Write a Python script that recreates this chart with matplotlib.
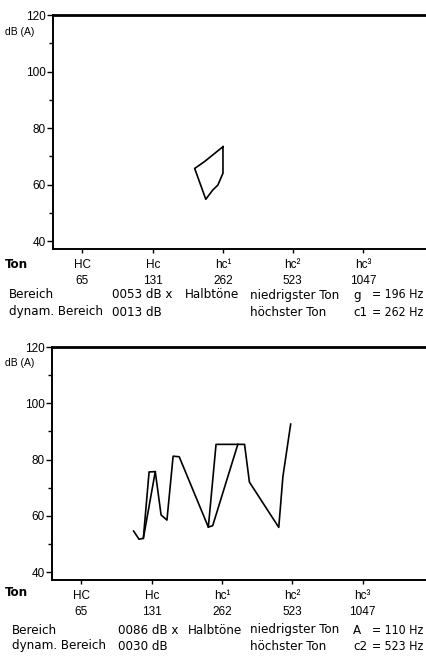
import numpy as np
import matplotlib
matplotlib.use("Agg")
import matplotlib.pyplot as plt
from matplotlib.ticker import FixedLocator, NullFormatter

# Stimmfeld 1 (geschlossene Kontur)
f1 = [262, 262, 249, 237, 221, 198, 218, 262]
db1 = [73.4, 64.0, 59.8, 58.1, 54.8, 65.7, 68.1, 73.4]

# Stimmfeld 2, Hauptkontur
f2 = [109, 115, 120, 127, 135, 143, 151.5, 161, 171, 228, 246, 326, 342, 457, 476, 514]
db2 = [54.6, 51.7, 52.0, 75.6, 75.7, 60.3, 58.5, 81.2, 81.0, 56.0, 85.4, 85.4, 72.0, 55.9, 73.9, 92.6]
# Stimmfeld 2, zweite Linie (Stücke, getrennt durch nan)
f2b = [120, 135, np.nan, 228, 238, 305]
db2b = [52.0, 75.7, np.nan, 56.0, 56.5, 85.4]

ton_namen = ["HC", "Hc", "hc¹", "hc²", "hc³"]
ton_hz = [65, 131, 262, 523, 1047]
y_ticks = [40, 60, 80, 100, 120]
y_minor = [50, 70, 90, 110]

info1 = {"bereich": "0053 dB x", "dyn": "0013 dB",
         "tief": ("g", "= 196 Hz"), "hoch": ("c1", "= 262 Hz")}
info2 = {"bereich": "0086 dB x", "dyn": "0030 dB",
         "tief": ("A", "= 110 Hz"), "hoch": ("c2", "= 523 Hz")}

W, H = 427, 663
fig = plt.figure(figsize=(W / 100, H / 100), dpi=100)
fig.patch.set_facecolor("white")

SANS = ["Liberation Sans", "DejaVu Sans"]
COND = dict(family="DejaVu Sans", stretch="condensed", fontsize=9.5, va="center")


def px(x, y):
    return x / W, 1 - y / H


def stimmfeld(box, fx, dbx, fx2=None, dbx2=None):
    l, t, r, b = box
    ax = fig.add_axes([l / W, 1 - b / H, (r - l) / W, (b - t) / H])
    ax.plot(fx, dbx, color="black", lw=1.2)
    if fx2 is not None:
        ax.plot(fx2, dbx2, color="black", lw=1.2)
    ax.set_xscale("log", base=2)
    ax.set_xlim(48.7, 1975)
    ax.set_ylim(37.2, 120)
    ax.spines["right"].set_visible(False)
    ax.spines["top"].set_linewidth(2.0)
    ax.spines["left"].set_linewidth(1.4)
    ax.spines["bottom"].set_linewidth(1.4)
    ax.xaxis.set_major_locator(FixedLocator(ton_hz))
    ax.xaxis.set_minor_locator(FixedLocator([]))
    ax.xaxis.set_minor_formatter(NullFormatter())
    ax.set_xticklabels([f"{n}\n{h}" for n, h in zip(ton_namen, ton_hz)],
                       family=SANS, fontsize=8.5, linespacing=1.35)
    ax.tick_params(axis="x", length=3, width=1, pad=4.5)
    ax.set_yticks(y_ticks)
    ax.set_yticks(y_minor, minor=True)
    ax.set_yticklabels([str(v) for v in y_ticks], family=SANS, fontsize=8.5)
    ax.tick_params(axis="y", which="major", length=4, width=1, pad=1)
    ax.tick_params(axis="y", which="minor", length=3, width=1)
    return ax


def texte(y0, y1, y2, x0, info):
    # y0/y1/y2 = Pixelhöhe der Zeilen, x0 = Verschiebung der linken Spalten
    fig.text(*px(5, y0), "Ton", **{**COND, "weight": "bold"})
    fig.text(*px(9 + x0, y1), "Bereich", **COND)
    fig.text(*px(9 + x0, y2), "dynam. Bereich", **COND)
    fig.text(*px(112 + 2 * x0, y1), info["bereich"], **COND)
    fig.text(*px(112 + 2 * x0, y2), info["dyn"], **COND)
    fig.text(*px(185 + x0, y1), "Halbtöne", **COND)
    fig.text(*px(250, y1), "niedrigster Ton", **COND)
    fig.text(*px(250, y2), "höchster Ton", **COND)
    fig.text(*px(353, y1), info["tief"][0], **COND)
    fig.text(*px(353, y2), info["hoch"][0], **COND)
    fig.text(*px(423, y1), info["tief"][1], ha="right", **{**COND, "fontsize": 8.8})
    fig.text(*px(423, y2), info["hoch"][1], ha="right", **{**COND, "fontsize": 8.8})


ax1 = stimmfeld((53, 15, 427, 249), f1, db1)
fig.text(*px(5, 32), "dB (A)", family=SANS, fontsize=7.5, va="center")
texte(265, 295, 312, 0, info1)

ax2 = stimmfeld((52, 347, 427, 580), f2, db2, f2b, db2b)
fig.text(*px(5, 363), "dB (A)", family=SANS, fontsize=7.5, va="center")
texte(593, 630, 646, 3, info2)

fig.savefig("out.png", dpi=100, facecolor="white")
